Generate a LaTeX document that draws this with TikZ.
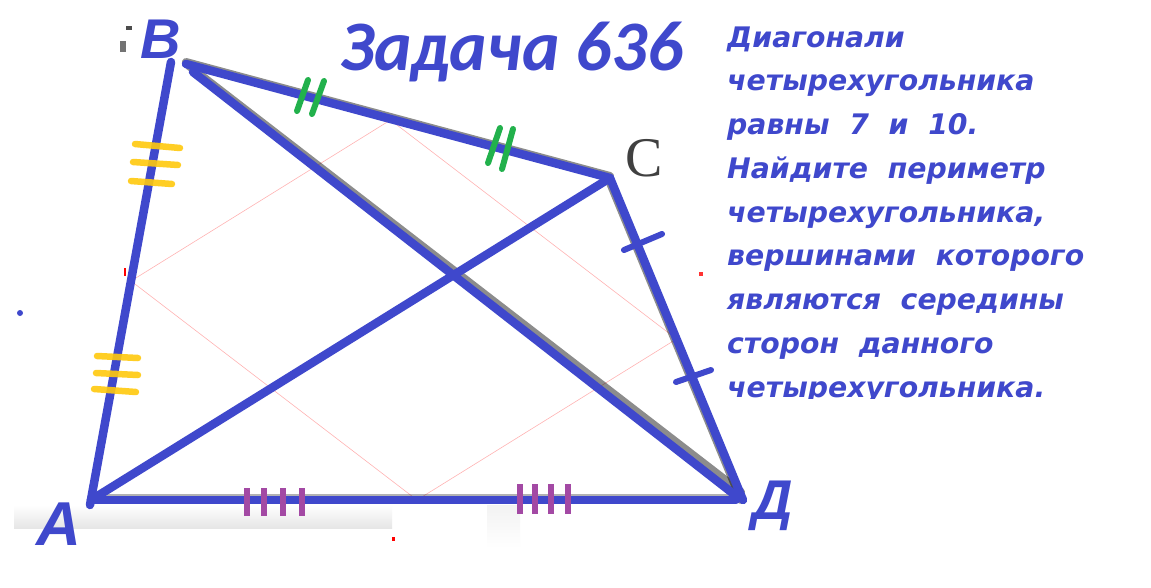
\documentclass[tikz,border=0pt]{standalone}
\usepackage{fontspec}
\usetikzlibrary{calc}
\newfontfamily\ttlfont{Carlito Bold Italic}
\newfontfamily\rtfont{DejaVu Sans Bold Oblique}
\newfontfamily\labfont{Liberation Sans Bold Italic}
\newfontfamily\cfont{Liberation Serif}
\definecolor{pblue}{RGB}{63,72,204}
\definecolor{pgreen}{RGB}{34,177,76}
\definecolor{pgold}{RGB}{255,201,14}
\definecolor{ppurple}{RGB}{163,73,164}
\tikzset{
  side/.style={draw=pblue,line width=8.5pt,line cap=round},
  shadowline/.style={draw=black,line width=8pt,opacity=0.45,line cap=round},
  midline/.style={draw=red,line width=0.6pt,opacity=0.3},
  tickY/.style={draw=pgold,line width=6.5pt,line cap=round,opacity=0.9},
  tickG/.style={draw=pgreen,line width=6pt,line cap=round},
  tickB/.style={draw=pblue,line width=6pt,line cap=round},
  tickP/.style={draw=ppurple,line width=6.5pt},
  rt/.style={anchor=base west,inner sep=0pt,text=pblue,font=\rtfont\fontsize{28.3}{28}\selectfont},
  vlab/.style={inner sep=0pt,text=pblue,font=\labfont\fontsize{56}{56}\selectfont}
}
\begin{document}
\begin{tikzpicture}[x=1pt,y=-1pt]
\useasboundingbox (0,0) rectangle (1151,587);
\fill[white] (0,0) rectangle (1151,587);
% faint background artefacts
\shade[top color=white,bottom color=black!10] (14,505) rectangle (392,528);
\shade[top color=black!5,bottom color=white] (487,505) rectangle (520,548);
\fill[black!70] (126,26) rectangle (132,30);
\fill[black!55] (120,41) rectangle (126,52);
\fill[pblue] (20,313) circle (3);
\fill[red] (392,537) rectangle (395,541);
\fill[red] (124,268) rectangle (126,276);
\fill[red!80] (699,272) rectangle (703,276);
% vertices
\coordinate (A) at (91,500);
\coordinate (B) at (171,62);
\coordinate (C) at (610,178);
\coordinate (D) at (743,500);
\coordinate (Bc) at (186,64);
\coordinate (Bd) at (193,72);
\coordinate (Dd) at (735,495);
\coordinate (Da) at (736,500);
\coordinate (Ab) at (90,505);
% midpoints parallelogram
\coordinate (M1) at ($(A)!0.5!(B)$);
\coordinate (M2) at ($(B)!0.5!(C)$);
\coordinate (M3) at ($(C)!0.5!(D)$);
\coordinate (M4) at ($(D)!0.5!(A)$);
\draw[midline] (M1) -- (M2) -- (M3) -- (M4) -- cycle;
% shadows
\draw[shadowline] ([shift={(0,-2)}]Bc) -- ([shift={(0,-2)}]C);
\draw[shadowline] (189,66) -- (741,492);
\draw[shadowline] ([shift={(-2,0)}]C) -- ([shift={(-2,0)}]D);
\draw[draw=black,line width=4pt,opacity=0.3] (95,496) -- (736,496);
% sides and diagonals
\draw[side] (Ab) -- (B);
\draw[side] (Bc) -- (C);
\draw[side] (C) -- (D);
\draw[side] (A) -- (Da);
\draw[side] (A) -- (C);
\draw[side] (Bd) -- (Dd);
% ticks AB
\draw[tickY] (135,144) -- (180,148);
\draw[tickY] (133,162) -- (178,165);
\draw[tickY] (131,181) -- (172,184);
\draw[tickY] (97,356) -- (138,358);
\draw[tickY] (96,373) -- (138,375);
\draw[tickY] (94,389) -- (136,392);
% ticks BC
\draw[tickG] (297,111) -- (308,80);
\draw[tickG] (312,114) -- (324,81);
\draw[tickG] (488,163) -- (500,128);
\draw[tickG] (502,169) -- (513,129);
% ticks CD
\draw[tickB] (624,250) -- (662,234);
\draw[tickB] (676,382) -- (711,370);
% ticks AD
\foreach \x in {247,264,283,302} \draw[tickP] (\x,488) -- (\x,516);
\foreach \x in {520,535,551,568} \draw[tickP] (\x,484) -- (\x,514);
% vertex labels
\node[vlab,anchor=base west] (lB) at (140,58) {B};
\node[vlab,anchor=base west,font=\labfont\fontsize{62}{62}\selectfont] (lA) at (36,545) {A};
\node[vlab,anchor=base west] (lD) at (752,519) {Д};
\node[anchor=base west,inner sep=0pt,text=black!75,font=\cfont\fontsize{56}{56}\selectfont] (lC) at (625,176) {C};
% title
\node[anchor=base west,inner sep=0pt,text=pblue,font=\ttlfont\fontsize{71}{71}\selectfont] (title) at (340,70) {Задача 636};
% problem text
\node[rt] (t1) at (727,47) {Диагонали};
\node[rt] (t2) at (727,90.75) {четырехугольника};
\node[rt] (t3) at (727,134.5) {равны~ 7~ и~ 10.};
\node[rt] (t4) at (727,178.25) {Найдите~ периметр};
\node[rt] (t5) at (727,222) {четырехугольника,};
\node[rt] (t6) at (727,265.75) {вершинами~ которого};
\node[rt] (t7) at (727,309.5) {являются~ середины};
\node[rt] (t8) at (727,353.25) {сторон~ данного};
\begin{scope}
\clip (700,360) rectangle (1151,398);
\node[rt] (t9) at (727,397) {четырехугольника.};
\end{scope}
\end{tikzpicture}
\end{document}
